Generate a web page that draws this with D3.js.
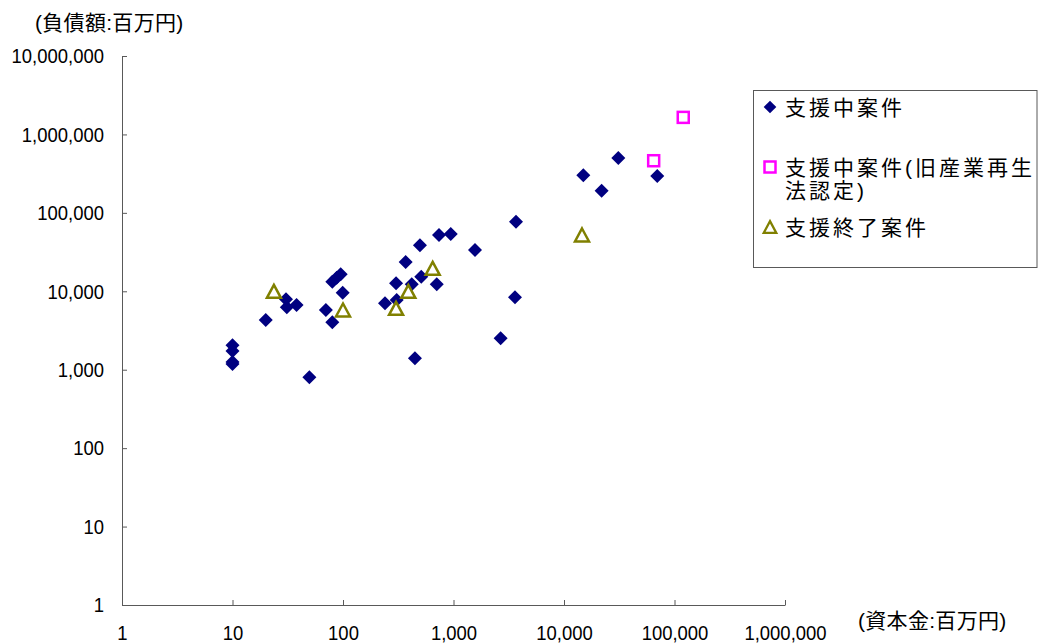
<!DOCTYPE html>
<html>
<head>
<meta charset="utf-8">
<script src="https://cdn.jsdelivr.net/npm/d3@7"></script>
<style>
  body { margin: 0; background: #fff; }
  svg { display: block; font-family: "Liberation Sans", Arial, "Noto Sans CJK JP", sans-serif; }
</style>
</head>
<body>
<div id="root"></div>
<script>
// 支援中案件 (資本金, 負債額 — 百万円)
const activeCapital = [10, 10, 10, 10, 20, 30.5, 31, 38, 49.6, 70, 80, 80, 87.7, 95.3, 99.4,
  240, 306, 302, 369, 419, 497, 511, 705, 739, 944, 1566, 448, 2670, 3680, 3600,
  14950, 21900, 31000, 69800];
const activeDebt = [2050, 1730, 1250, 1180, 4300, 7900, 6250, 6700, 800, 5770, 4020, 13250, 14900, 16450, 9600,
  7030, 7740, 12650, 23600, 12300, 38550, 15350, 12280, 52200, 53700, 33600, 1400, 2515, 77100, 8380,
  301000, 192000, 500000, 295000];

// 支援中案件(旧産業再生法認定)
const sangyoCapital = [120000, 64800];
const sangyoDebt = [1650000, 462000];

// 支援終了案件
const endedCapital = [23.7, 100, 302, 390, 648, 14550];
const endedDebt = [10000, 5770, 6070, 10000, 19630, 52200];

const xTicks = [1, 10, 100, 1000, 10000, 100000, 1000000];
const yTicks = [1, 10, 100, 1000, 10000, 100000, 1000000, 10000000];

const legendLabels = [
  ['支援中案件'],
  ['支援中案件(旧産業再生', '法認定)'],
  ['支援終了案件']
];

const W = 1038, H = 643;
const svg = d3.select('#root').append('svg')
  .attr('width', W).attr('height', H)
  .attr('xmlns', 'http://www.w3.org/2000/svg');

const x = d3.scaleLog().domain([1, 1e6]).range([122, 785]);
const y = d3.scaleLog().domain([1, 1e7]).range([605, 56]);

const axisColor = '#595959';
const sx = 0.88; // 数字はやや縦長

// 軸 Y
const gy = svg.append('g')
  .attr('transform', `translate(${x(1)},0)`)
  .call(d3.axisLeft(y).tickValues(yTicks).tickFormat(d3.format(',')).tickSize(-5).tickSizeOuter(0).tickPadding(18));
gy.select('.domain').attr('stroke', axisColor);
gy.selectAll('line').attr('stroke', axisColor);
gy.selectAll('text')
  .attr('font-size', 21).attr('fill', '#000')
  .attr('x', -18 / sx)
  .attr('transform', `scale(${sx},1)`);

// 軸 X
const gx = svg.append('g')
  .attr('transform', `translate(0,${y(1)})`)
  .call(d3.axisBottom(x).tickValues(xTicks).tickFormat(d3.format(',')).tickSize(-5).tickSizeOuter(0).tickPadding(20));
gx.select('.domain').attr('stroke', axisColor);
gx.selectAll('line').attr('stroke', axisColor);
gx.selectAll('text')
  .attr('font-size', 21).attr('fill', '#000')
  .attr('transform', `scale(${sx},1)`);

// 軸タイトル
svg.append('text')
  .attr('x', 35).attr('y', 30)
  .attr('font-size', 21).attr('letter-spacing', 0.3)
  .text('(負債額:百万円)');
svg.append('text')
  .attr('x', 858).attr('y', 628)
  .attr('font-size', 21).attr('letter-spacing', 0.3)
  .text('(資本金:百万円)');

// マーカー
const diamond = 'M0,-7L7,0L0,7L-7,0Z';
const triangle = 'M0,-6.5L7,6.5L-7,6.5Z';

svg.append('g').selectAll('path')
  .data(activeCapital.map((c, i) => [c, activeDebt[i]]))
  .join('path')
  .attr('d', diamond)
  .attr('transform', d => `translate(${x(d[0])},${y(d[1])})`)
  .attr('fill', '#000080');

svg.append('g').selectAll('rect')
  .data(sangyoCapital.map((c, i) => [c, sangyoDebt[i]]))
  .join('rect')
  .attr('x', d => x(d[0]) - 5.5).attr('y', d => y(d[1]) - 5.5)
  .attr('width', 11).attr('height', 11)
  .attr('fill', '#fff').attr('stroke', '#ff00ff').attr('stroke-width', 2.5);

svg.append('g').selectAll('path')
  .data(endedCapital.map((c, i) => [c, endedDebt[i]]))
  .join('path')
  .attr('d', triangle)
  .attr('transform', d => `translate(${x(d[0])},${y(d[1])})`)
  .attr('fill', '#fff').attr('stroke', '#808000').attr('stroke-width', 2.5)
  .attr('stroke-linejoin', 'miter');

// 凡例
const lg = svg.append('g');
lg.append('rect')
  .attr('x', 753.5).attr('y', 90.5).attr('width', 283.5).attr('height', 177)
  .attr('fill', '#fff').attr('stroke', axisColor).attr('stroke-width', 1);

const rowY = [107, 167, 227];
lg.append('path').attr('d', diamond)
  .attr('transform', `translate(770,${rowY[0]}) scale(0.9)`).attr('fill', '#000080');
lg.append('rect')
  .attr('x', 764.5).attr('y', rowY[1] - 5.5).attr('width', 11).attr('height', 11)
  .attr('fill', '#fff').attr('stroke', '#ff00ff').attr('stroke-width', 2.5);
lg.append('path').attr('d', triangle)
  .attr('transform', `translate(770,${rowY[2]}) scale(0.9)`)
  .attr('fill', '#fff').attr('stroke', '#808000').attr('stroke-width', 2.5);

legendLabels.forEach((lines, i) => {
  const t = lg.append('text')
    .attr('x', 785).attr('y', rowY[i])
    .attr('font-size', 21).attr('letter-spacing', 3)
    .attr('dominant-baseline', 'central')
    .attr('fill', '#000');
  lines.forEach((s, j) => {
    t.append('tspan').attr('x', 785).attr('dy', j === 0 ? 0 : 23).text(s);
  });
});
</script>
</body>
</html>
